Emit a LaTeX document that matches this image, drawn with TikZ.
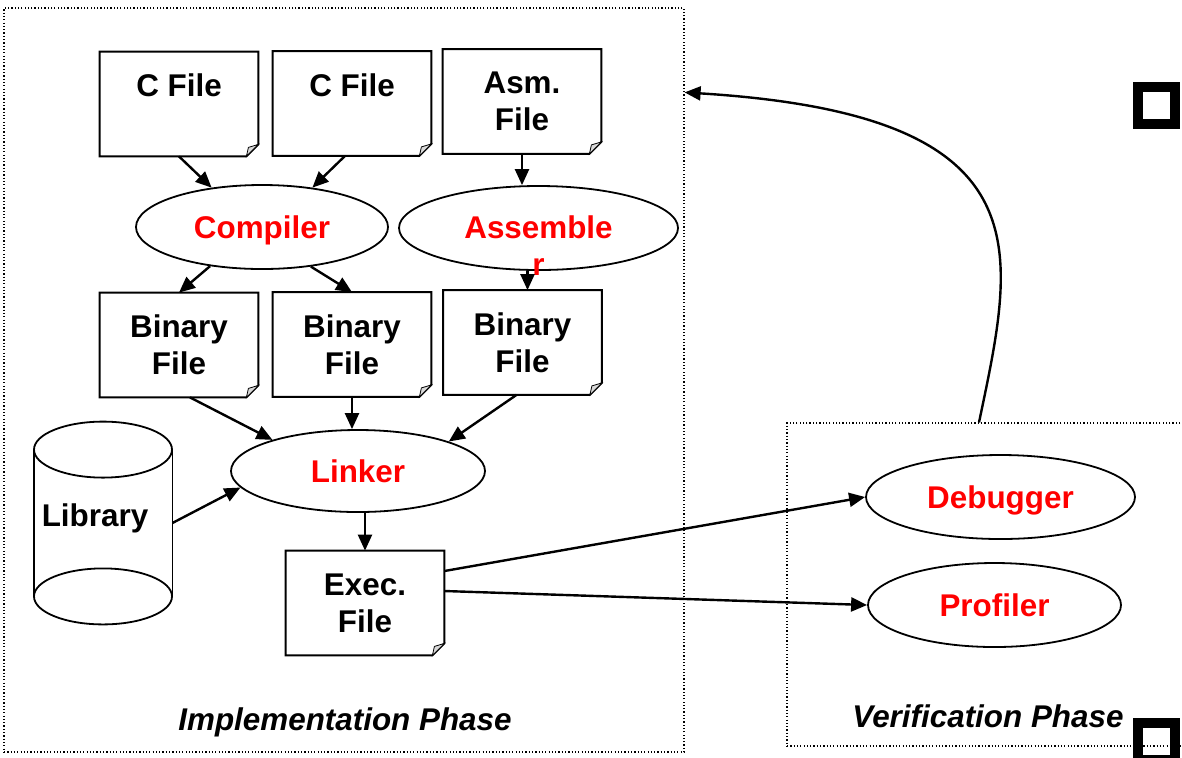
\documentclass[tikz,border=0pt]{standalone}
\usepackage{fontspec}
\setmainfont{Liberation Sans}
\usetikzlibrary{shapes.geometric,arrows.meta}
\tikzset{
  docbox/.style={rectangle, minimum width=79pt, minimum height=52pt, inner sep=0pt, align=center},
  tool/.style={ellipse, draw, line width=0.9pt, inner sep=0pt, minimum height=42pt,
    text height=11.2pt, text depth=0pt, text=red},
  phase/.style={draw, dash pattern=on 0.6pt off 1.05pt, line width=0.6pt, inner sep=0pt},
  arr/.style={line width=1.2pt, -{Triangle[length=8pt,width=7pt]}},
  hollowsq/.style={draw, line width=5pt, minimum size=18.5pt, inner sep=0pt}
}
\begin{document}
\begin{tikzpicture}[x=0.5pt,y=-0.5pt,font=\fontsize{15.7}{18.5}\selectfont\bfseries]
        \useasboundingbox (0,0) rectangle (1182,757);

        \node[phase, minimum width=340pt, minimum height=372pt] (impl) at (344,380) {};
        \node[phase, minimum width=204pt, minimum height=161.5pt] (verif) at (991,584.5) {};

        \node[docbox] (cfA) at (179,104) {C File\\~};
        \node[docbox] (cfB) at (352,103.5) {C File\\~};
        \node[docbox] (asmf) at (522,101.5) {Asm.\\File};
        \node[tool, minimum width=126pt] (comp) at (262,227) {Compiler};
        \node[tool, minimum width=139.5pt,
              label={[text=red, align=center, yshift=-9pt]center:Assemble\\r}] (asmb) at (538.5,228) {};
        \foreach \n/\x/\y in {binA/179/345, binB/352/344.5, binC/522.5/342.5} {
                \node[docbox] (\n) at (\x,\y) {Binary\\File};
        }
        \node[tool, minimum width=127pt, minimum height=41pt] (link) at (358,471) {Linker};
        \node[minimum width=69pt, minimum height=101pt, inner sep=0pt] (lib) at (103,523) {\raisebox{-1.5pt}[0pt][0pt]{Library}\hspace*{8pt}};
        \draw[line width=0.9pt] (lib.north) ++(0,28) ellipse [x radius=69, y radius=28];
        \draw[line width=0.9pt] (lib.south) ++(0,-28) ellipse [x radius=69, y radius=28];
        \draw[line width=0.9pt] ([yshift=-14pt]lib.north west) -- ([yshift=14pt]lib.south west);
        \draw[line width=0.9pt] ([yshift=-14pt]lib.north east) -- ([yshift=14pt]lib.south east);
        \node[docbox] (exec) at (365,603) {Exec.\\File};
        \node[tool, minimum width=134.5pt] (dbg) at (1000.5,497) {Debugger};
        \node[tool, minimum width=126.5pt] (prof) at (994.5,605) {Profiler};

        % page outline with folded corner
        \foreach \d in {cfA,cfB,asmf,binA,binB,binC,exec} {
                \draw[line width=1pt] (\d.north west) -- (\d.north east) -- ([yshift=6pt]\d.south east)
                        -- ([xshift=-6pt]\d.south east) -- (\d.south west) -- cycle;
                \draw[line width=0.4pt, fill=gray!30] ([yshift=6pt]\d.south east) -- ([xshift=-6pt]\d.south east)
                        -- ([xshift=-5pt,yshift=4.5pt]\d.south east) -- cycle;
        }

        \node[font=\fontsize{15.7}{18.5}\selectfont\bfseries\itshape] (implLbl) at (345,722) {Implementation Phase};
        \node[font=\fontsize{15.7}{18.5}\selectfont\bfseries\itshape] (verLbl) at (988,716) {Verification Phase};
        \node[hollowsq] (sqA) at (1156.5,105) {};
        \node[hollowsq] (sqB) at (1156.5,741) {};

        \draw[arr] (cfA.south) -- (comp.142);
        \draw[arr] ([xshift=-3.5pt]cfB.south) -- (comp.38);
        \draw[arr] (asmf.south) -- (asmf.south |- asmb.north);
        \draw[arr] (comp.217) -- (binA.north);
        \draw[arr] (comp.-39) -- (binB.north);
        \draw[arr] ([xshift=2.5pt]asmb.south -| binC.north) -- ([xshift=2.5pt]binC.north);
        \draw[arr] ([xshift=5.5pt]binA.south) -- (link.160);
        \draw[arr] (binB.south) -- (binB.south |- link.north);
        \draw[arr] ([xshift=-3pt]binC.south) -- (link.18);
        \draw[arr] (lib.east) -- (link.188);
        \draw[arr] (link.south -| exec.north) -- (exec.north);
        \draw[arr] ([yshift=16pt]exec.east) -- (dbg.west);
        \draw[arr] ([yshift=6pt]exec.east) -- (prof.west);
        \draw[arr] ([xshift=-6pt]verif.north) .. controls (1015,250) and (1050,115) .. ([yshift=-42.5pt]impl.north east);

\end{tikzpicture}
\end{document}
